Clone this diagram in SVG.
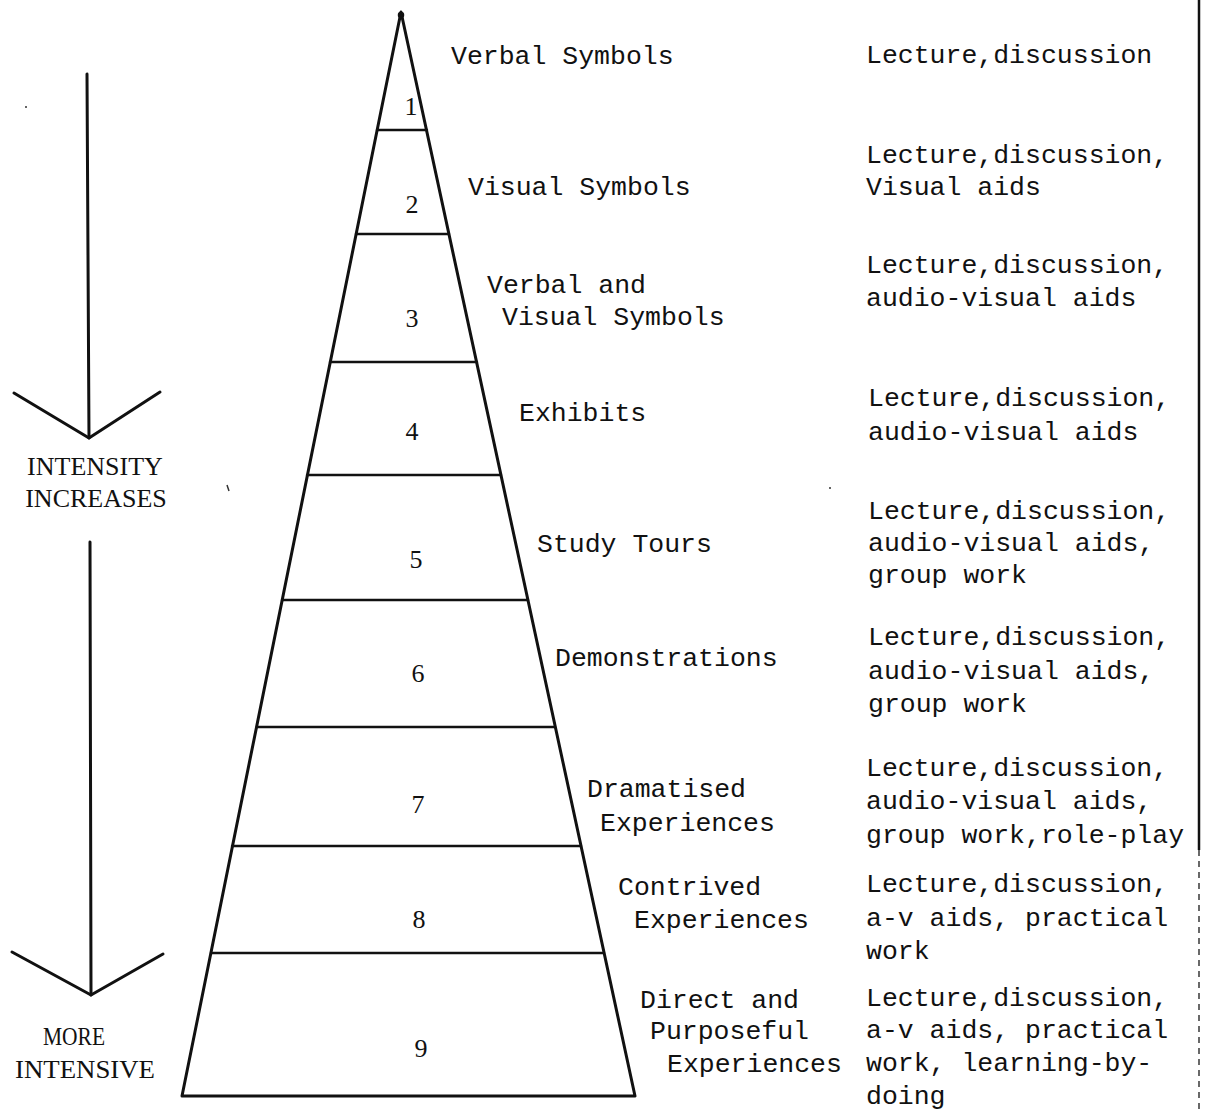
<svg xmlns="http://www.w3.org/2000/svg" width="1206" height="1111" viewBox="0 0 1206 1111">
  <style>
    .edge { fill: none; stroke: #111; stroke-width: 3; stroke-linejoin: round; stroke-linecap: round; }
    .band { stroke: #111; stroke-width: 2.4; stroke-linecap: round; }
    .arrow { fill: none; stroke: #111; stroke-width: 3; stroke-linecap: round; stroke-linejoin: round; }
    .tw { font-family: "Liberation Mono", "DejaVu Sans Mono", monospace; font-size: 26.5px; fill: #111; }
    .num { font-family: "Liberation Serif", "DejaVu Serif", serif; font-size: 26px; fill: #111; text-anchor: middle; }
    .cap { font-family: "Liberation Serif", "DejaVu Serif", serif; font-size: 26px; fill: #111; text-anchor: middle; }
  </style>

  <rect width="1206" height="1111" fill="#fff"/>

  <!-- cone outline -->
  <g id="cone">
    <path class="edge" d="M182,1096 L401,12 L635,1096 Z"/>
    <circle cx="401" cy="15" r="2.5" fill="none" stroke="#111" stroke-width="1.5"/>
  </g>

  <!-- band dividers -->
  <g id="dividers">
    <line class="band" x1="377" y1="130" x2="427" y2="130"/>
    <line class="band" x1="356" y1="234" x2="449" y2="234"/>
    <line class="band" x1="330" y1="362" x2="477" y2="362"/>
    <line class="band" x1="307" y1="475" x2="501" y2="475"/>
    <line class="band" x1="282" y1="600" x2="528" y2="600"/>
    <line class="band" x1="257" y1="727" x2="555" y2="727"/>
    <line class="band" x1="232" y1="846" x2="581" y2="846"/>
    <line class="band" x1="211" y1="953" x2="604" y2="953"/>
  </g>

  <!-- right margin rule -->
  <g id="margin">
    <line x1="1199" y1="0" x2="1199" y2="850" stroke="#111" stroke-width="2.5"/>
    <line x1="1199" y1="850" x2="1199" y2="1111" stroke="#444" stroke-width="1.6" stroke-dasharray="6 5"/>
  </g>

  <!-- intensity arrows -->
  <g id="connectors">
    <path class="arrow" d="M87,74 L89,438"/>
    <path class="arrow" d="M14,393 L89,438 L160,392"/>
    <path class="arrow" d="M90,542 L91,995"/>
    <path class="arrow" d="M12,952 L91,995 L163,954"/>
  </g>

  <g id="intensity-label">
    <text class="cap" x="95" y="475">INTENSITY</text>
    <text class="cap" x="96" y="507">INCREASES</text>
  </g>
  <g id="intensive-label">
    <text class="cap" x="74" y="1045" font-size="24" textLength="62" lengthAdjust="spacingAndGlyphs">MORE</text>
    <text class="cap" x="85" y="1078" font-size="24" textLength="140" lengthAdjust="spacingAndGlyphs">INTENSIVE</text>
  </g>

  <!-- levels of the cone -->
  <g id="level-1">
    <text class="num" x="411" y="115">1</text>
    <text class="tw" x="451" y="64">Verbal Symbols</text>
    <text class="tw" x="866" y="63">Lecture,discussion</text>
  </g>
  <g id="level-2">
    <text class="num" x="412" y="213">2</text>
    <text class="tw" x="468" y="195">Visual Symbols</text>
    <text class="tw" x="866" y="163">Lecture,discussion,</text>
    <text class="tw" x="866" y="195">Visual aids</text>
  </g>
  <g id="level-3">
    <text class="num" x="412" y="327">3</text>
    <text class="tw" x="487" y="293">Verbal and</text>
    <text class="tw" x="502" y="325">Visual Symbols</text>
    <text class="tw" x="866" y="273">Lecture,discussion,</text>
    <text class="tw" x="866" y="306">audio-visual aids</text>
  </g>
  <g id="level-4">
    <text class="num" x="412" y="440">4</text>
    <text class="tw" x="519" y="421">Exhibits</text>
    <text class="tw" x="868" y="406">Lecture,discussion,</text>
    <text class="tw" x="868" y="440">audio-visual aids</text>
  </g>
  <g id="level-5">
    <text class="num" x="416" y="568">5</text>
    <text class="tw" x="537" y="552">Study Tours</text>
    <text class="tw" x="868" y="519">Lecture,discussion,</text>
    <text class="tw" x="868" y="551">audio-visual aids,</text>
    <text class="tw" x="868" y="583">group work</text>
  </g>
  <g id="level-6">
    <text class="num" x="418" y="682">6</text>
    <text class="tw" x="555" y="666">Demonstrations</text>
    <text class="tw" x="868" y="645">Lecture,discussion,</text>
    <text class="tw" x="868" y="679">audio-visual aids,</text>
    <text class="tw" x="868" y="712">group work</text>
  </g>
  <g id="level-7">
    <text class="num" x="418" y="813">7</text>
    <text class="tw" x="587" y="797">Dramatised</text>
    <text class="tw" x="600" y="831">Experiences</text>
    <text class="tw" x="866" y="776">Lecture,discussion,</text>
    <text class="tw" x="866" y="809">audio-visual aids,</text>
    <text class="tw" x="866" y="843">group work,role-play</text>
  </g>
  <g id="level-8">
    <text class="num" x="419" y="928">8</text>
    <text class="tw" x="618" y="895">Contrived</text>
    <text class="tw" x="634" y="928">Experiences</text>
    <text class="tw" x="866" y="892">Lecture,discussion,</text>
    <text class="tw" x="866" y="926">a-v aids, practical</text>
    <text class="tw" x="866" y="959">work</text>
  </g>
  <g id="level-9">
    <text class="num" x="421" y="1057">9</text>
    <text class="tw" x="640" y="1008">Direct and</text>
    <text class="tw" x="650" y="1039">Purposeful</text>
    <text class="tw" x="667" y="1072">Experiences</text>
    <text class="tw" x="866" y="1006">Lecture,discussion,</text>
    <text class="tw" x="866" y="1038">a-v aids, practical</text>
    <text class="tw" x="866" y="1071">work, learning-by-</text>
    <text class="tw" x="866" y="1104">doing</text>
  </g>

  <!-- small specks on the sheet -->
  <g id="specks" fill="#333">
    <path d="M227,485 L229,491" stroke="#333" stroke-width="1.5" fill="none"/>
    <circle cx="26" cy="107" r="1"/>
    <circle cx="830" cy="488" r="1"/>
  </g>
</svg>
